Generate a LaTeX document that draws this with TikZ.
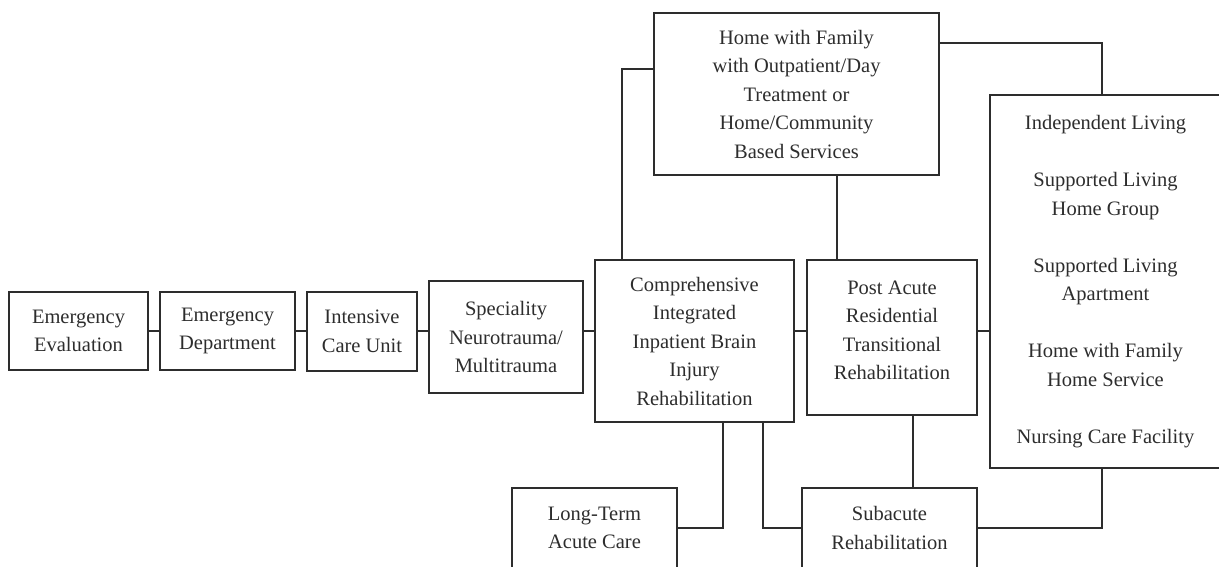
\documentclass[tikz,border=0pt]{standalone}
\usepackage{fontspec}
\setmainfont{Liberation Serif}
\definecolor{ink}{RGB}{45,45,45}
\begin{document}
\begin{tikzpicture}[x=1pt,y=-1pt,
  words/.style={align=center, text=ink, inner sep=0pt, font=\fontsize{20.5}{28.5}\selectfont},
  box/.style={words, draw=ink, line width=1.3pt, rectangle},
  link/.style={draw=ink, line width=1.3pt}]
\useasboundingbox (0,0) rectangle (1219,567);

% care pathway boxes
\node[box, minimum width=139pt, minimum height=78pt]  (ee)   at (78.5,331)   {Emergency\\Evaluation};
\node[box, minimum width=135pt, minimum height=78pt]  (ed)   at (227.5,331)  {Emergency\\Department};
\node[box, minimum width=110pt, minimum height=79pt]  (icu)  at (362,331.5)  {Intensive\\Care Unit};
\node[box, minimum width=154pt, minimum height=112pt] (spec) at (506,337)    {Speciality\\Neurotrauma/\\Multitrauma};
\node[box, minimum width=199pt, minimum height=162pt] (comp) at (694.5,341)  {Comprehensive\\Integrated\\Inpatient Brain\\Injury\\Rehabilitation};
\node[box, minimum width=170pt, minimum height=155pt,
      label={[words, yshift=7pt]center:{Post Acute\\Residential\\Transitional\\Rehabilitation}}]
      (post) at (892,337.5) {};
\node[box, minimum width=285pt, minimum height=162pt] (home) at (796.5,94)   {Home with Family\\with Outpatient/Day\\Treatment or\\Home/Community\\Based Services};
\node[box, minimum width=231pt, minimum height=373pt] (live) at (1105.5,281.5)
  {Independent Living\\[28.5pt]Supported Living\\Home Group\\[28.5pt]Supported Living\\Apartment\\[28.5pt]Home with Family\\Home Service\\[28.5pt]Nursing Care Facility};
\node[box, minimum width=165pt, minimum height=80pt]  (ltac) at (594.5,528)  {Long-Term\\Acute Care};
\node[box, minimum width=175pt, minimum height=80pt]  (sub)  at (889.5,528)  {Subacute\\Rehabilitation};

% routing guides
\coordinate (trunk) at (0,331);
\coordinate (hl) at (622,69);
\coordinate (hr) at (1102,43);
\coordinate (hd) at (837,0);
\coordinate (cl) at (723,0);
\coordinate (cr) at (763,0);
\coordinate (pd) at (913,0);

% connectors
\draw[link] (ee.east) -- (ed.west);
\draw[link] (ed.east) -- (icu.west |- ed.east);
\draw[link] (icu.east |- trunk) -- (spec.west |- trunk);
\draw[link] (spec.east |- trunk) -- (comp.west |- trunk);
\draw[link] (comp.east |- trunk) -- (post.west |- trunk);
\draw[link] (post.east |- trunk) -- (live.west |- trunk);
\draw[link] (home.west |- hl) -| (comp.north -| hl);
\draw[link] (home.east |- hr) -| (live.north -| hr);
\draw[link] (home.south -| hd) -- (post.north -| hd);
\draw[link] (comp.south -| cl) |- (ltac.east);
\draw[link] (comp.south -| cr) |- (sub.west);
\draw[link] (post.south -| pd) -- (sub.north -| pd);
\draw[link] (live.south -| hr) |- (sub.east);
\end{tikzpicture}
\end{document}
